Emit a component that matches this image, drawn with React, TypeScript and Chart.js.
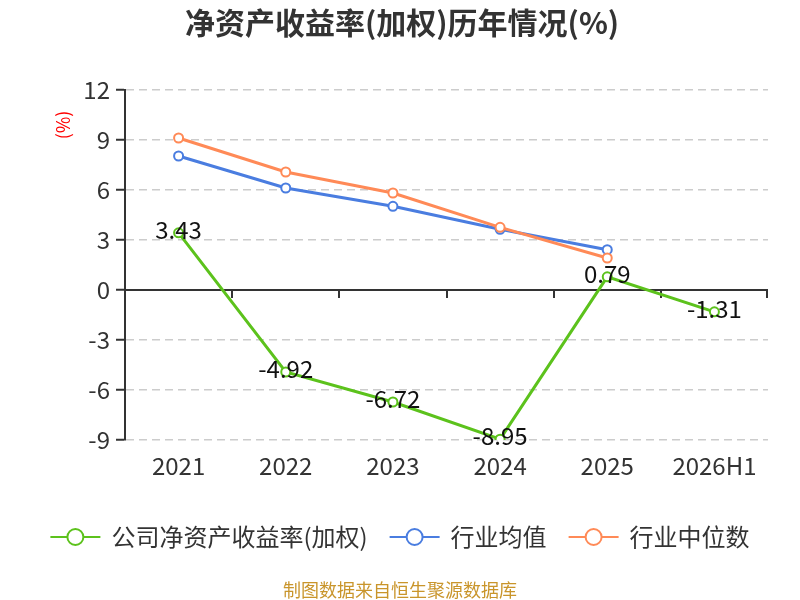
import { useEffect, useRef } from "react";
import { Chart, registerables } from "chart.js";

Chart.register(...registerables);

const years = ["2021", "2022", "2023", "2024", "2025", "2026H1"];
const companyRoe = [3.43, -4.92, -6.72, -8.95, 0.79, -1.31];
const industryAvg = [8.04, 6.12, 5.02, 3.64, 2.42, null];
const industryMedian = [9.12, 7.08, 5.82, 3.76, 1.92, null];

const legendNames = ["公司净资产收益率(加权)", "行业均值", "行业中位数"];
const colors = ["#5cc21c", "#4a7de0", "#ff8a57"];

const FONT = "'Noto Sans CJK SC', 'Noto Sans', sans-serif";

// title, unit label, zero line, data labels, legend and footer
const decorations = {
  id: "decorations",
  beforeDatasetsDraw(chart: any) {
    const { ctx, chartArea, scales } = chart;
    const y0 = scales.y.getPixelForValue(0);
    const n = years.length;
    const step = (chartArea.right - chartArea.left) / n;
    ctx.save();
    ctx.strokeStyle = "#333";
    ctx.lineWidth = 2;
    ctx.beginPath();
    ctx.moveTo(chartArea.left, y0);
    ctx.lineTo(chartArea.right, y0);
    for (let i = 1; i <= n; i++) {
      const x = Math.round(chartArea.left + i * step) - (i === n ? 1 : 0);
      ctx.moveTo(x, y0);
      ctx.lineTo(x, y0 + 8);
    }
    ctx.stroke();
    ctx.restore();
  },
  afterDatasetsDraw(chart: any) {
    const { ctx } = chart;
    ctx.save();
    // data labels for the company line
    const meta = chart.getDatasetMeta(0);
    ctx.font = `24px ${FONT}`;
    ctx.fillStyle = "#111";
    ctx.textAlign = "center";
    ctx.textBaseline = "middle";
    meta.data.forEach((pt: any, i: number) => {
      ctx.fillText(companyRoe[i].toFixed(2), pt.x, pt.y - 3);
    });

    // title
    ctx.font = `bold 30px ${FONT}`;
    ctx.fillStyle = "#333";
    ctx.fillText("净资产收益率(加权)历年情况(%)", 402, 23);

    // unit label
    ctx.save();
    ctx.translate(63, 125);
    ctx.rotate(-Math.PI / 2);
    ctx.font = `18px ${FONT}`;
    ctx.fillStyle = "#ff0000";
    ctx.fillText("(%)", 0, 0);
    ctx.restore();

    // legend
    ctx.font = `24px ${FONT}`;
    const iconW = 50;
    const gap = 11;
    const spacing = 22;
    const widths = legendNames.map((t) => iconW + gap + ctx.measureText(t).width);
    const total = widths.reduce((a, b) => a + b, 0) + spacing * (widths.length - 1);
    let x = 400 - total / 2;
    const ly = 537;
    ctx.textAlign = "left";
    legendNames.forEach((name, i) => {
      ctx.strokeStyle = colors[i];
      ctx.lineWidth = 2;
      ctx.beginPath();
      ctx.moveTo(x, ly);
      ctx.lineTo(x + iconW, ly);
      ctx.stroke();
      ctx.beginPath();
      ctx.arc(x + iconW / 2, ly, 8, 0, Math.PI * 2);
      ctx.fillStyle = "#fff";
      ctx.fill();
      ctx.stroke();
      ctx.fillStyle = "#333";
      ctx.fillText(name, x + iconW + gap, ly);
      x += widths[i] + spacing;
    });

    // footer
    ctx.font = `18px ${FONT}`;
    ctx.fillStyle = "#c9952b";
    ctx.textAlign = "center";
    ctx.fillText("制图数据来自恒生聚源数据库", 400, 590);
    ctx.restore();
  },
};

function lineSet(label: string, data: (number | null)[], color: string, order: number) {
  return {
    label,
    data,
    borderColor: color,
    backgroundColor: "#fff",
    borderWidth: 3,
    pointRadius: 4.5,
    pointBorderWidth: 2,
    pointBackgroundColor: "#fff",
    pointBorderColor: color,
    tension: 0,
    order,
  };
}

export default function App() {
  const canvasRef = useRef<HTMLCanvasElement>(null);
  const chartRef = useRef<Chart | null>(null);

  useEffect(() => {
    if (!canvasRef.current) return;
    if (chartRef.current) chartRef.current.destroy();

    chartRef.current = new Chart(canvasRef.current, {
      type: "line",
      data: {
        labels: years,
        datasets: [
          lineSet(legendNames[0], companyRoe, colors[0], 0),
          lineSet(legendNames[1], industryAvg, colors[1], 2),
          lineSet(legendNames[2], industryMedian, colors[2], 1),
        ],
      },
      options: {
        responsive: false,
        animation: false,
        layout: { padding: { top: 90, right: 32, bottom: 100, left: 0 } },
        plugins: {
          legend: { display: false },
          title: { display: false },
          tooltip: { enabled: false },
        },
        scales: {
          x: {
            offset: true,
            grid: { display: false, drawTicks: false },
            border: { display: false },
            ticks: {
              color: "#333",
              padding: 11,
              font: { family: FONT, size: 24 },
            },
            afterFit(scale: any) {
              scale.height = 60;
            },
          },
          y: {
            min: -9,
            max: 12,
            ticks: {
              stepSize: 3,
              color: "#333",
              padding: 6,
              font: { family: FONT, size: 24 },
            },
            grid: {
              color: (c: any) => (c.tick && c.tick.value === 0 ? "rgba(0,0,0,0)" : "#cccccc"),
              lineWidth: 1.5,
              tickColor: "#333",
              tickBorderDash: [],
              tickLength: 9,
              tickWidth: 2,
            },
            border: { display: true, color: "#333", width: 2, dash: [8, 5] },
            afterFit(scale: any) {
              scale.width = 125;
            },
          },
        },
      },
      plugins: [decorations],
    });

    return () => {
      if (chartRef.current) {
        chartRef.current.destroy();
        chartRef.current = null;
      }
    };
  }, []);

  return (
    <div style={{ position: "absolute", left: 0, top: 0, width: 800, height: 600, background: "#fff" }}>
      <canvas ref={canvasRef} width={800} height={600} style={{ display: "block" }} />
    </div>
  );
}
